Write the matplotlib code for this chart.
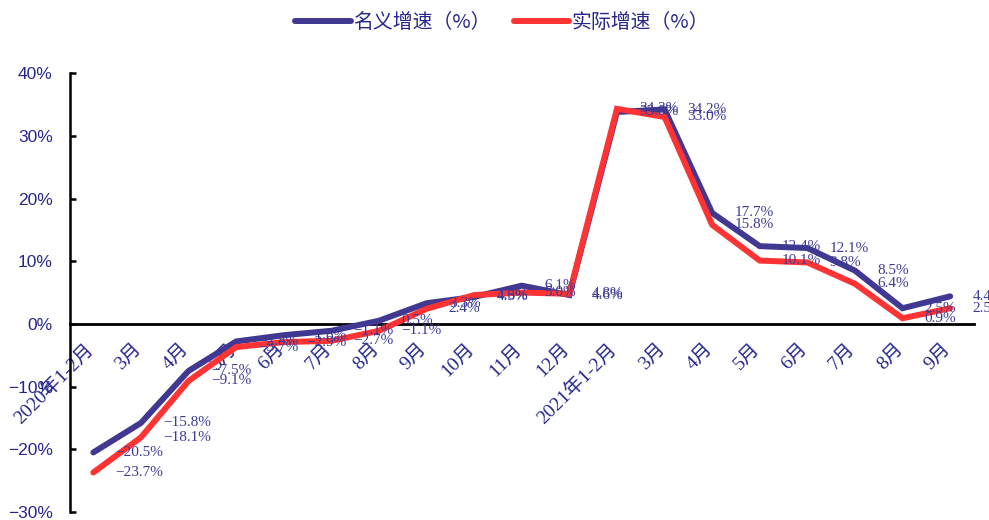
import matplotlib
matplotlib.use("Agg")
import matplotlib.pyplot as plt
import matplotlib.transforms as mtransforms
import numpy as np

# 月度同比增速（%）
months = ["2020年1-2月", "3月", "4月", "5月", "6月", "7月", "8月", "9月", "10月",
          "11月", "12月", "2021年1-2月", "3月", "4月", "5月", "6月", "7月", "8月", "9月"]
nominal = [-20.5, -15.8, -7.5, -2.8, -1.8, -1.1, 0.5, 3.3, 4.3, 6.1, 4.6,
           33.8, 34.2, 17.7, 12.4, 12.1, 8.5, 2.5, 4.4]
real = [-23.7, -18.1, -9.1, -3.7, -2.9, -2.7, -1.1, 2.4, 4.6, 5.0, 4.8,
        34.3, 33.0, 15.8, 10.1, 9.8, 6.4, 0.9, 2.5]
yticks = [-30, -20, -10, 0, 10, 20, 30, 40]

NOM_COLOR = "#403891"
REAL_COLOR = "#ff3333"
TICK_COLOR = "#26268c"
LABEL_COLOR = "#3d3a96"

fig = plt.figure(figsize=(9.89, 5.2), dpi=100)
ax = fig.add_axes([0.0703, 0.0154, 0.9145, 0.844])

x = np.arange(len(months))
ax.plot(x, nominal, color=NOM_COLOR, lw=4.3, solid_capstyle="round",
        solid_joinstyle="miter", label="名义增速（%）", zorder=3)
ax.plot(x, real, color=REAL_COLOR, lw=4.3, solid_capstyle="round",
        solid_joinstyle="miter", label="实际增速（%）", zorder=4)

# data labels to the right of each point
for series in (nominal, real):
    for i, v in enumerate(series):
        txt = f"{v:.1f}%".replace("-", "\u2212")
        ax.annotate(txt, (i, v), xytext=(16, 0), textcoords="offset points",
                    ha="left", va="center", fontsize=11, color=LABEL_COLOR,
                    family=["Liberation Serif"], annotation_clip=False, zorder=5)

ax.set_xlim(-0.5, len(months) - 0.5)
ax.set_ylim(-30, 40)

ax.spines["top"].set_visible(False)
ax.spines["right"].set_visible(False)
ax.spines["bottom"].set_position(("data", 0))
ax.spines["bottom"].set_linewidth(2.0)
ax.spines["left"].set_linewidth(1.8)

ax.set_yticks(yticks)
ax.set_yticklabels([f"{t}%".replace("-", "\u2212") for t in yticks],
                   family=["Liberation Sans"], fontsize=12.5, color=TICK_COLOR)
ax.tick_params(axis="y", direction="in", length=4, width=1.8, pad=12)

ax.set_xticks(x)
ax.set_xticklabels(months, rotation=45, ha="right", va="top",
                   family=["Liberation Serif", "Noto Sans CJK SC"],
                   fontsize=14, color=TICK_COLOR)
ax.tick_params(axis="x", length=0, pad=12)
# nudge the rotated month labels slightly right
shift = mtransforms.ScaledTranslation(4 / 100, 0, fig.dpi_scale_trans)
for lbl in ax.get_xticklabels():
    lbl.set_transform(lbl.get_transform() + shift)

leg = fig.legend(loc="center", bbox_to_anchor=(0.508, 0.956), ncol=2,
                 frameon=False, handlelength=2.77, handletextpad=0.15,
                 columnspacing=1.15,
                 prop={"family": ["Noto Sans CJK SC"], "size": 14.3})
for t in leg.get_texts():
    t.set_color(TICK_COLOR)

plt.savefig("out.png", dpi=100)
plt.close()
